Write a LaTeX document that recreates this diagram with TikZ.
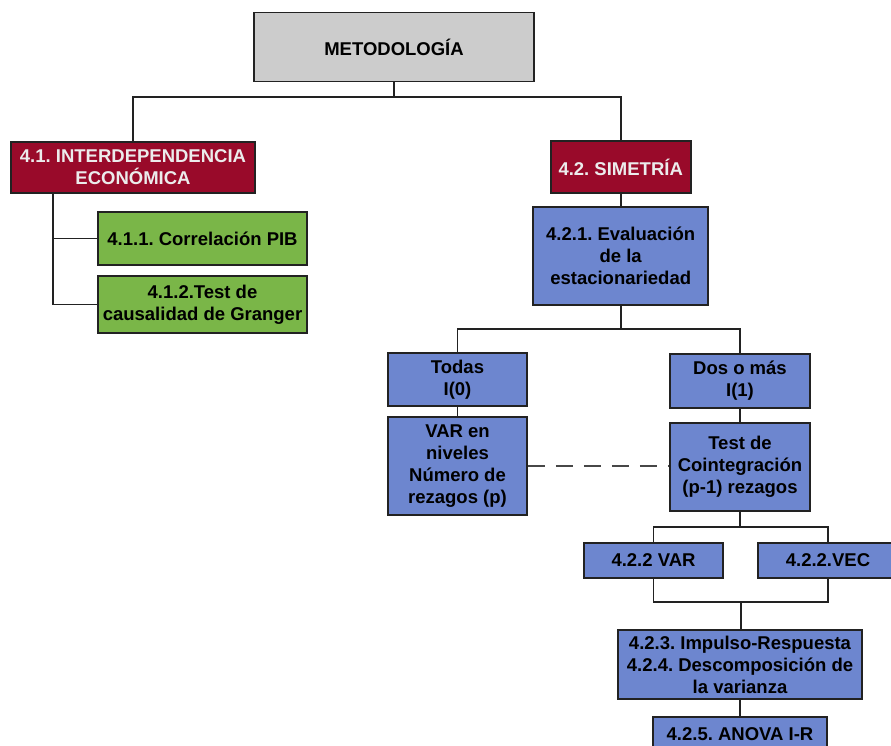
\documentclass[tikz,border=0pt]{standalone}
\usepackage{fontspec}
\setmainfont{Liberation Sans}
\frenchspacing
\definecolor{boxred}{HTML}{990A2A}
\definecolor{boxgreen}{HTML}{7AB648}
\definecolor{boxblue}{HTML}{6D86CF}
\definecolor{boxgray}{HTML}{CCCCCC}
\definecolor{linecol}{HTML}{222222}
\definecolor{redtext}{HTML}{ECECEC}
\tikzset{
  basebox/.style={draw=linecol, line width=1.8pt, inner sep=0pt, align=center,
    font=\fontsize{18.5}{22}\selectfont\bfseries\frenchspacing, text=black},
  graybox/.style={basebox, fill=boxgray},
  redbox/.style={basebox, fill=boxred, text=redtext},
  greenbox/.style={basebox, fill=boxgreen},
  bluebox/.style={basebox, fill=boxblue},
  conn/.style={draw=linecol, line width=1.8pt},
  dashconn/.style={draw=black!72, line width=2.6pt, dash pattern=on 17pt off 11pt}
}
\begin{document}
\begin{tikzpicture}[x=1pt, y=-1pt]
\useasboundingbox (0,0) rectangle (891,746);
\clip (0,0) rectangle (891,746);
\fill[white] (0,0) rectangle (891,746);

% nodes
\node[graybox, minimum width=280pt, minimum height=69pt] (meto) at (394,47) {METODOLOGÍA};
\node[redbox, minimum width=244pt, minimum height=51pt] (n41) at (133,167.5) {4.1. INTERDEPENDENCIA\\ECONÓMICA};
\node[redbox, minimum width=140pt, minimum height=52pt] (n42) at (620.7,167) {4.2. SIMETRÍA};
\node[greenbox, minimum width=209pt, minimum height=53pt] (n411) at (202.5,238.5) {4.1.1. Correlación PIB};
\node[greenbox, minimum width=209pt, minimum height=57pt] (n412) at (202.5,304.5) {4.1.2.Test de\\causalidad de Granger};
\node[bluebox, minimum width=175pt, minimum height=98pt] (n421) at (620.7,256) {4.2.1. Evaluación\\de la\\estacionariedad};
\node[bluebox, minimum width=139pt, minimum height=53pt] (todas) at (457.5,379.5) {Todas\\I(0)};
\node[bluebox, minimum width=139pt, minimum height=98pt] (varniv) at (457.5,466) {VAR en\\niveles\\Número de\\rezagos (p)};
\node[bluebox, minimum width=140pt, minimum height=54pt] (dos) at (740,381) {Dos o más\\I(1)};
\node[bluebox, minimum width=140pt, minimum height=88pt] (test) at (740,467) {Test de\\Cointegración\\(p-1) rezagos};
\node[bluebox, minimum width=139pt, minimum height=35pt] (var) at (653.5,560.5) {4.2.2 VAR};
\node[bluebox, minimum width=140pt, minimum height=35pt] (vec) at (828,560.5) {4.2.2.VEC};
\node[bluebox, minimum width=244pt, minimum height=69pt] (n423) at (740,664.5) {4.2.3. Impulso-Respuesta\\4.2.4. Descomposición de\\la varianza};
\node[bluebox, minimum width=174pt, minimum height=34pt] (anova) at (740,734) {4.2.5. ANOVA I-R};

% bus coordinates
\coordinate (b1) at (394,97);
\coordinate (l41) at (53,193);
\coordinate (b2) at (620.7,329);
\coordinate (b3) at (740,527);
\coordinate (b4) at (741,602);

% connectors
\draw[conn] (meto.south) -- (b1);
\draw[conn] (n41.north) |- (b1) -| (n42.north);
\draw[conn] (l41) |- (n411.west);
\draw[conn] (l41) |- (n412.west);
\draw[conn] (n42.south) -- (n421.north);
\draw[conn] (n421.south) -- (b2);
\draw[conn] (todas.north) |- (b2) -| (dos.north);
\draw[conn] (todas.south) -- (varniv.north);
\draw[conn] (dos.south) -- (test.north);
\draw[dashconn] (varniv.east) -- (varniv.east -| test.west);
\draw[conn] (test.south) -- (b3);
\draw[conn] (var.north) |- (b3) -| (vec.north);
\draw[conn] (var.south) |- (b4) -| (vec.south);
\draw[conn] (b4) -- (b4 |- n423.north);
\draw[conn] (n423.south) -- (anova.north);
\end{tikzpicture}
\end{document}
